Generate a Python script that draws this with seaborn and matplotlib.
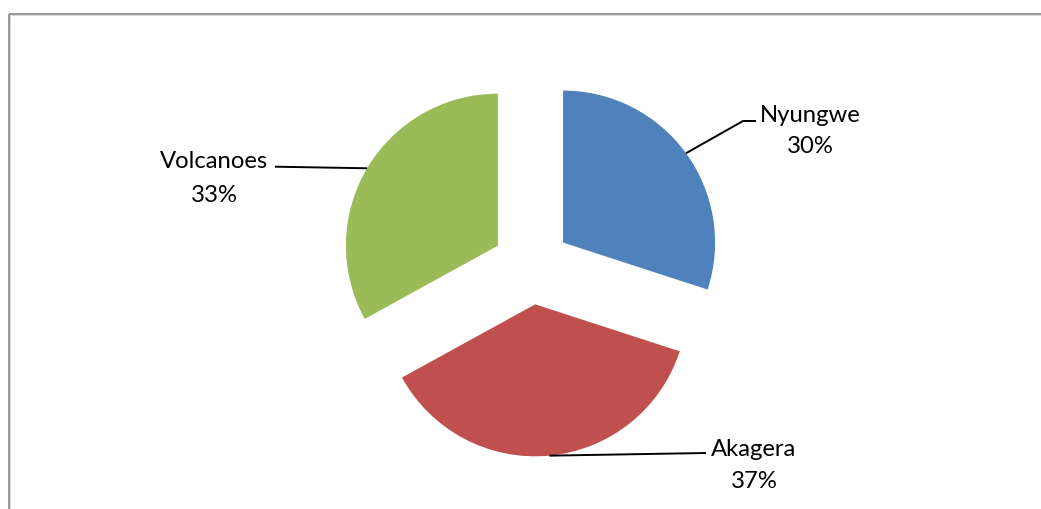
import numpy as np
import matplotlib
matplotlib.use("Agg")
import matplotlib.pyplot as plt
import seaborn as sns

# ---- data ----
parks = ["Nyungwe", "Akagera", "Volcanoes"]
shares = [30, 37, 33]
colors = ["#4F81BD", "#C0504D", "#9BBB59"]

# ---- style ----
sns.set_theme(style="white")
plt.rcParams["font.family"] = ["Lato", "DejaVu Sans"]

W, H = 1041, 509
fig = plt.figure(figsize=(W / 100, H / 100), dpi=100)
ax = fig.add_axes([0, 0, 1, 1])

def Y(y_img):
    return H - y_img

cx, cy = 531.5, Y(265.5)
R = 152
offset = 39  # explode distance (matplotlib uses absolute data units)

wedges, _ = ax.pie(shares, colors=colors, startangle=90, counterclock=False,
                   explode=[offset] * len(shares), radius=R, center=(cx, cy),
                   frame=True, wedgeprops=dict(linewidth=0))

ax.set_xlim(0, W)
ax.set_ylim(0, H)
ax.set_aspect("equal", adjustable="box")
ax.axis("off")

# label layout (pixel positions of leader end and text)
layout = {
    "Nyungwe": dict(elbow=(743, 121), end=(756, 121), text=(810, 121.7), text2=(810, 153)),
    "Akagera": dict(elbow=None, end=(706, 453), text=(754, 456), text2=(754, 488)),
    "Volcanoes": dict(elbow=None, end=(275, 166.7), text=(214, 167.7), text2=(214, 201.7)),
}

FS = 17.2
for w, name, val in zip(wedges, parks, shares):
    mid = np.deg2rad((w.theta1 + w.theta2) / 2)
    wcx, wcy = w.center
    sx = wcx + w.r * np.cos(mid)
    sy = wcy + w.r * np.sin(mid)
    L = layout[name]
    xs, ys = [sx], [sy]
    if L["elbow"] is not None:
        xs.append(L["elbow"][0]); ys.append(Y(L["elbow"][1]))
    xs.append(L["end"][0]); ys.append(Y(L["end"][1]))
    ax.plot(xs, ys, color="black", lw=1.4, solid_capstyle="butt")
    ax.text(L["text"][0], Y(L["text"][1]), name, ha="center", va="baseline",
            fontsize=FS, color="black")
    ax.text(L["text2"][0], Y(L["text2"][1]), f"{val}%", ha="center", va="baseline",
            fontsize=FS, color="black")

# chart area frame (partially visible)
ax.plot([8.7, 8.7], [Y(13.5), 0], color="#858585", lw=1.2, solid_capstyle="butt")
ax.plot([8.7, W], [Y(13.5), Y(13.5)], color="#858585", lw=1.2, solid_capstyle="butt")
ax.plot([9.9, 9.9], [Y(14.7), 0], color="#d9d9d9", lw=0.8, solid_capstyle="butt")
ax.plot([9.9, W], [Y(14.7), Y(14.7)], color="#d9d9d9", lw=0.8, solid_capstyle="butt")

fig.savefig("out.png", dpi=100, facecolor="white")
